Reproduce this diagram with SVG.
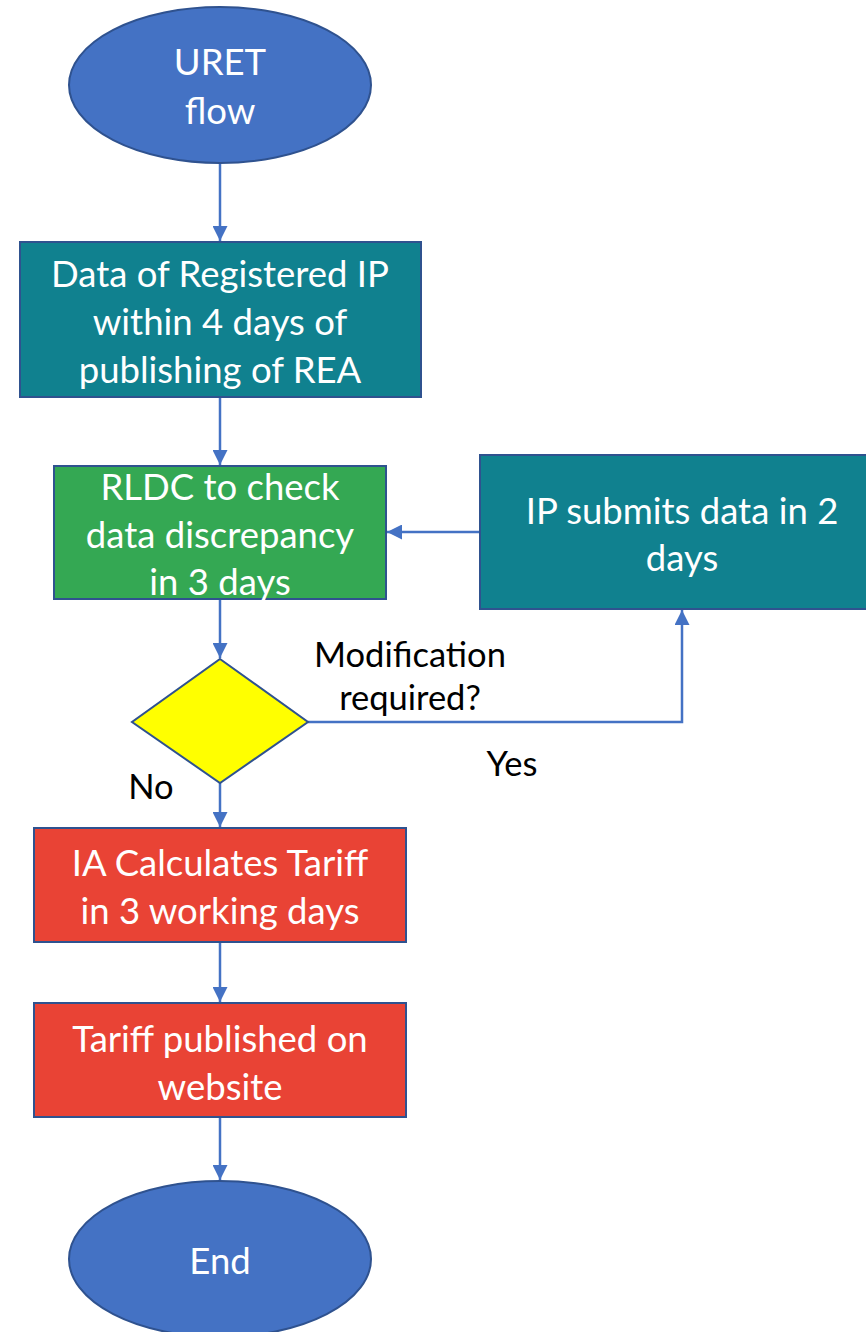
<svg xmlns="http://www.w3.org/2000/svg" width="866" height="1332" viewBox="0 0 866 1332">
  <style>
    .shape { stroke: #2F528F; stroke-width: 2; }
    .start { fill: #4472C4; }
    .teal { fill: #10818F; }
    .green { fill: #34A853; }
    .red { fill: #E94335; }
    .yellow { fill: #FFFF00; }
    .label { font-family: Lato, "Open Sans", sans-serif; font-size: 36.5px; text-anchor: middle; dominant-baseline: central; }
    .light { fill: #FFFFFF; }
    .dark { fill: #000000; font-size: 34.5px; }
    .conn { fill: none; stroke: #4472C4; stroke-width: 2.5; }
  </style>
  <defs>
    <marker id="arrow" viewBox="0 0 10 10" refX="10" refY="5" markerWidth="15" markerHeight="15" markerUnits="userSpaceOnUse" orient="auto">
      <path d="M0,0 L10,5 L0,10 Z" fill="#4472C4"/>
    </marker>
  </defs>
  <rect width="866" height="1332" fill="#FFFFFF"/>

  <g id="connectors">
    <path class="conn" d="M220,163 V241" marker-end="url(#arrow)"/>
    <path class="conn" d="M220,397 V465" marker-end="url(#arrow)"/>
    <path class="conn" d="M480,532 H387" marker-end="url(#arrow)"/>
    <path class="conn" d="M220,599 V658" marker-end="url(#arrow)"/>
    <path class="conn" d="M308,722 H682 V610" marker-end="url(#arrow)"/>
    <path class="conn" d="M220,783 V827" marker-end="url(#arrow)"/>
    <path class="conn" d="M220,942 V1002" marker-end="url(#arrow)"/>
    <path class="conn" d="M220,1117 V1180" marker-end="url(#arrow)"/>
  </g>

  <g id="start">
    <ellipse class="shape start" cx="220" cy="85" rx="151" ry="78"/>
    <text class="label light" x="220" y="61">URET</text>
    <text class="label light" x="220" y="110">flow</text>
  </g>

  <g id="registered-data">
    <rect class="shape teal" x="20" y="242" width="401" height="155"/>
    <text class="label light" x="220" y="273">Data of Registered IP</text>
    <text class="label light" x="220" y="321">within 4 days of</text>
    <text class="label light" x="220" y="369">publishing of REA</text>
  </g>

  <g id="rldc-check">
    <rect class="shape green" x="54" y="466" width="332" height="133"/>
    <text class="label light" x="220" y="486">RLDC to check</text>
    <text class="label light" x="220" y="534">data discrepancy</text>
    <text class="label light" x="220" y="581">in 3 days</text>
  </g>

  <g id="ip-submits">
    <rect class="shape teal" x="480" y="455" width="390" height="154"/>
    <text class="label light" x="682" y="510">IP submits data in 2</text>
    <text class="label light" x="682" y="557">days</text>
  </g>

  <g id="decision">
    <polygon class="shape yellow" points="220,659 308,722 220,783 132,722"/>
  </g>

  <g id="edge-labels">
    <text class="label dark" x="410" y="653">Modification</text>
    <text class="label dark" x="410" y="696">required?</text>
    <text class="label dark" x="512" y="762">Yes</text>
    <text class="label dark" x="151" y="785">No</text>
  </g>

  <g id="ia-calculates">
    <rect class="shape red" x="34" y="828" width="372" height="114"/>
    <text class="label light" x="220" y="862">IA Calculates Tariff</text>
    <text class="label light" x="220" y="910">in 3 working days</text>
  </g>

  <g id="tariff-published">
    <rect class="shape red" x="34" y="1003" width="372" height="114"/>
    <text class="label light" x="220" y="1038">Tariff published on</text>
    <text class="label light" x="220" y="1086">website</text>
  </g>

  <g id="end">
    <ellipse class="shape start" cx="220" cy="1259" rx="151" ry="78"/>
    <text class="label light" x="220" y="1260">End</text>
  </g>
</svg>
